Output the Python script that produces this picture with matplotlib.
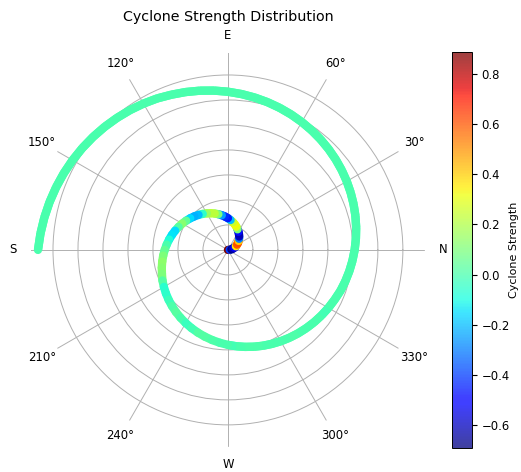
import numpy as np
import matplotlib
matplotlib.use('Agg')
import matplotlib.pyplot as plt
from matplotlib.collections import LineCollection
from matplotlib.colors import Normalize
from matplotlib.cm import ScalarMappable

# spiral track (angle in degrees, radius in ring units)
angle_deg = [0, 5, 10, 15, 20, 25, 30, 35, 40, 45, 50, 55, 60, 65, 70, 75, 80, 85,
             90, 95, 100, 105, 110, 115, 120, 125, 130, 135, 140, 145, 150, 155, 160, 165, 170, 175,
             180, 185, 190, 195, 200, 205, 210, 215, 220, 225, 230, 235, 240, 245, 250, 255, 260, 265,
             270, 275, 280, 285, 290, 295, 300, 305, 310, 315, 320, 325, 330, 335, 340, 345, 350, 355,
             360, 365, 370, 375, 380, 385, 390, 395, 400, 405, 410, 415, 420, 425, 430, 435, 440, 445,
             450, 455, 460, 465, 470, 475, 480, 485, 490, 495, 500, 505, 510, 515, 520, 525, 530, 535,
             540]
radius = [0.00, 0.07, 0.14, 0.21, 0.28, 0.35, 0.42, 0.49, 0.56, 0.63, 0.70, 0.77, 0.84, 0.91, 0.99, 1.06, 1.13, 1.20,
          1.27, 1.34, 1.41, 1.48, 1.55, 1.62, 1.69, 1.76, 1.83, 1.90, 1.97, 2.04, 2.11, 2.18, 2.25, 2.32, 2.39, 2.46,
          2.53, 2.60, 2.67, 2.74, 2.81, 2.89, 2.96, 3.03, 3.10, 3.17, 3.24, 3.31, 3.38, 3.45, 3.52, 3.59, 3.66, 3.73,
          3.80, 3.87, 3.94, 4.01, 4.08, 4.15, 4.22, 4.29, 4.36, 4.43, 4.50, 4.57, 4.64, 4.71, 4.79, 4.86, 4.93, 5.00,
          5.07, 5.14, 5.21, 5.28, 5.35, 5.42, 5.49, 5.56, 5.63, 5.70, 5.77, 5.84, 5.91, 5.98, 6.05, 6.12, 6.19, 6.26,
          6.33, 6.40, 6.47, 6.54, 6.61, 6.69, 6.76, 6.83, 6.90, 6.97, 7.04, 7.11, 7.18, 7.25, 7.32, 7.39, 7.46, 7.53,
          7.60]
strength = [0.886, -0.40, -0.69, -0.62, -0.50, 0.35, 0.60, 0.62, 0.40, -0.30, -0.60, -0.62, -0.48, 0.10, 0.30, 0.32, 0.25, -0.20,
            -0.45, -0.42, -0.25, 0.10, 0.22, 0.22, 0.15, -0.05, -0.20, -0.22, -0.15, 0.05, 0.12, 0.02, -0.15, -0.14, -0.08, 0.00,
            0.05, 0.10, 0.13, 0.12, 0.10, 0.02, -0.06, -0.05, -0.02, 0.01, 0.03, 0.00, -0.03, -0.01, 0.02, 0.02, 0.01, 0.00,
            -0.01, 0.00, 0.01, 0.01, 0.00, 0.00, 0.00, 0.01, 0.00, 0.00, 0.00, -0.01, 0.00, 0.00, 0.00, 0.00, 0.00, 0.00,
            0.00, 0.00, 0.00, 0.00, 0.00, 0.00, 0.00, 0.00, 0.00, 0.00, 0.00, 0.00, 0.00, 0.00, 0.00, 0.00, 0.00, 0.00,
            0.00, 0.00, 0.00, 0.00, 0.00, 0.00, 0.00, 0.00, 0.00, 0.00, 0.00, 0.00, 0.00, 0.00, 0.00, 0.00, 0.00, 0.00,
            0.00]

theta_labels = ['N', '30°', '60°', 'E', '120°', '150°',
                'S', '210°', '240°', 'W', '300°', '330°']

plt.rcParams['font.size'] = 8.4
plt.rcParams['grid.linewidth'] = 0.7
plt.rcParams['xtick.major.pad'] = 2.4

fig = plt.figure(figsize=(5.21, 4.72), dpi=100)
ax = fig.add_axes([0.0595, 0.053, 0.756, 0.835], projection='polar')

theta = np.radians(angle_deg)
pts = np.column_stack([theta, radius]).reshape(-1, 1, 2)
segs = np.concatenate([pts[:-1], pts[1:]], axis=1)
norm = Normalize(min(strength), max(strength))
cmap = plt.get_cmap('jet')

# colourful inner part: round caps; calm outer part: butt caps over a smooth base line
split = 54
lc_in = LineCollection(segs[:split], cmap=cmap, norm=norm, linewidths=6,
                       capstyle='round', zorder=3)
lc_in.set_array(np.array(strength[:split]))
lc_out = LineCollection(segs[split:], cmap=cmap, norm=norm, linewidths=6,
                        capstyle='butt', zorder=2.5)
lc_out.set_array(np.array(strength[split:-1]))
ax.plot(theta[split:], radius[split:], color=cmap(norm(strength[-1])), lw=6,
        solid_capstyle='round', solid_joinstyle='round', zorder=2.4)
ax.add_collection(lc_out)
ax.add_collection(lc_in)

ax.set_ylim(0, 7.88)
ax.set_yticks(range(1, 8))
ax.set_yticklabels([])
ax.set_xticks(np.radians(np.arange(0, 360, 30)))
ax.set_xticklabels(theta_labels)
ax.spines['polar'].set_visible(False)
ax.set_title('Cyclone Strength Distribution', fontsize=10.3, pad=5.5)

cax = fig.add_axes([452 / 521, 24 / 472, 20 / 521, 396 / 472])
cbar = fig.colorbar(ScalarMappable(norm=norm, cmap=cmap), cax=cax, alpha=0.75)
cbar.set_label('Cyclone Strength', labelpad=-1, fontsize=8)
cbar.outline.set_linewidth(0.7)

fig.savefig('out.png', dpi=100)
